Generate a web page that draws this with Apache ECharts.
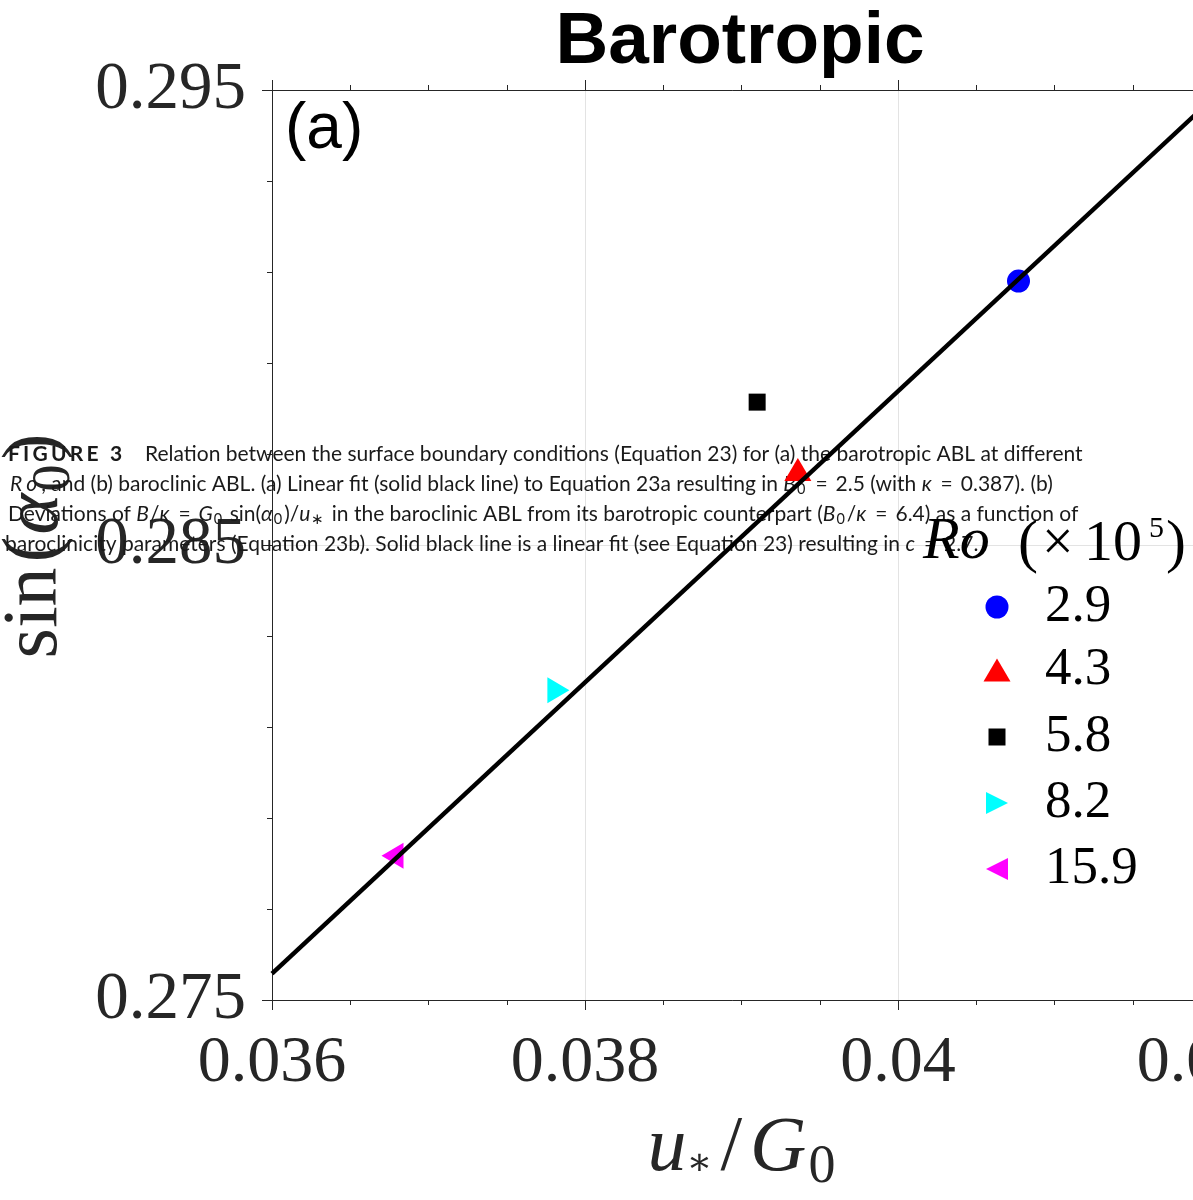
<!DOCTYPE html>
<html><head><meta charset="utf-8">
<script src="https://cdn.jsdelivr.net/npm/echarts@6/dist/echarts.min.js"></script>
<style>html,body{margin:0;padding:0;background:#fff}#c{width:1193px;height:1200px}</style>
</head><body><div id="c"></div>
<script>
// ---- data ----
const seriesNames = ['2.9', '4.3', '5.8', '8.2', '15.9'];
const xValues = [0.04077, 0.03936, 0.03910, 0.03783, 0.03677];
const yValues = [0.29080, 0.28666, 0.28814, 0.28181, 0.27817];
const fitX = [0.036, 0.042];
const fitY = [0.27558, 0.29478];
const xTickLabels = ['0.036', '0.038', '0.04', '0.042'];
const yTickLabels = ['0.275', '0.285', '0.295'];
const titleText = 'Barotropic';
const panelText = '(a)';
const captionHead = '{h|F}{h|I}{h|G}{h|U}{h|R}{h|E}{h| }{h|3}';
const captionLines = [
  '{n|Relation between the surface boundary conditions (Equation 23) for (a) the barotropic ABL at different}',
  '{r|R}{r|o}{n|, and (b) baroclinic ABL. (a) Linear fit (solid black line) to Equation 23a resulting in }{i|B}{s|0}{e|=}{n|2.5 (with }{i|κ}{e|=}{n|0.387). (b)}',
  '{n|Deviations of }{i|B}{n|/}{i|κ}{e|=}{i|G}{s|0}{n| sin(}{i|α}{s|0}{n|)/}{i|u}{s|∗}{n| in the baroclinic ABL from its barotropic counterpart (}{i|B}{s|0}{n|/}{i|κ}{e|=}{n|6.4) as a function of}',
  '{n|baroclinicity parameters (Equation 23b). Solid black line is a linear fit (see Equation 23) resulting in }{i|c}{e|=}{n|2.7.}'
];

// ---- styles ----
const markerColors = ['#0000ff', '#ff0000', '#000000', '#00ffff', '#ff00ff'];
const markerSymbols = ['circle', 'triangle', 'rect', 'path://M0,0L1,0.5L0,1Z', 'path://M1,0L0,0.5L1,1Z'];
const markerSizes = [[23, 23], [27, 23], [17, 17], [22, 26], [22, 26]];
const legendCenterY = [607, 670, 737, 803, 869];
const legendIconX = 997, legendTextX = 1045;
const AX = '#262626';
const SERIF = 'Liberation Serif';
const CAPC = '#1a1a1a';
const CAPF = 21;

function fmt(list) {
  return function (v) {
    for (const s of list) if (Math.abs(parseFloat(s) - v) < 1e-9) return s;
    return String(parseFloat(v.toFixed(4)));
  };
}

const series = seriesNames.map((n, i) => ({
  name: n, type: 'scatter', xAxisIndex: 0, yAxisIndex: 0,
  data: [[xValues[i], yValues[i]]],
  symbol: markerSymbols[i], symbolSize: markerSizes[i],
  itemStyle: { color: markerColors[i], opacity: 1 },
  z: 3, silent: true
}));
series.push({
  name: 'fit', type: 'line', xAxisIndex: 0, yAxisIndex: 0,
  data: fitX.map((x, i) => [x, fitY[i]]),
  showSymbol: false, symbol: 'none',
  lineStyle: { color: '#000', width: 4.5 }, z: 5, silent: true
});

const legends = seriesNames.map((n, i) => {
  const w = markerSizes[i][0], h = markerSizes[i][1];
  return {
    data: [n], orient: 'vertical', selectedMode: false, padding: 0,
    left: legendIconX - w / 2, top: legendCenterY[i] - 30,
    itemWidth: w, itemHeight: h,
    textStyle: { fontFamily: SERIF, fontSize: 53, color: '#000', lineHeight: 60,
      padding: [0, 0, 0, legendTextX - (legendIconX + w / 2) - 5] }
  };
});

const capBase = { fontFamily: 'Lato', fontSize: CAPF, fontStyle: 'normal', fontWeight: 'normal', fill: CAPC };
const capRich = {
  n: Object.assign({}, capBase),
  i: Object.assign({}, capBase, { fontStyle: 'italic', padding: [0, 1, 0, 0] }),
  r: Object.assign({}, capBase, { fontStyle: 'italic', padding: [0, 4, 0, 0] }),
  e: Object.assign({}, capBase, { padding: [0, 8, 0, 8] }),
  s: Object.assign({}, capBase, { fontSize: 14.5, padding: [10, 2, 0, 0] }),
  h: Object.assign({}, capBase, { fontWeight: 'bold', padding: [0, 3.2, 0, 0] })
};
const capY = [454, 484, 514, 544];
const capX = [145, 10, 8, 5];

const graphics = [
  { type: 'text', x: 740, y: 43, z: 10, style: { text: titleText, fontFamily: 'Liberation Sans', fontWeight: 'bold', fontSize: 73, fill: '#000', align: 'center', verticalAlign: 'middle' } },
  { type: 'text', x: 285, y: 130, z: 10, style: { text: panelText, fontFamily: 'Liberation Sans', fontSize: 64, fill: '#000', align: 'left', verticalAlign: 'middle' } },
  // legend title Ro (x10^5)
  { type: 'text', x: 923, y: 542, z: 10, style: { text: 'Ro', fontFamily: SERIF, fontStyle: 'italic', fontSize: 60, fill: '#000', align: 'left', verticalAlign: 'middle' } },
  { type: 'text', x: 1018, y: 545, z: 10, style: { text: '(', fontFamily: SERIF, fontSize: 60, fill: '#000', align: 'left', verticalAlign: 'middle' } },
  { type: 'text', x: 1042, y: 545, z: 10, style: { text: '×', fontFamily: SERIF, fontSize: 56, fill: '#000', align: 'left', verticalAlign: 'middle' } },
  { type: 'text', x: 1084, y: 545, z: 10, style: { text: '10', fontFamily: SERIF, fontSize: 58, fill: '#000', align: 'left', verticalAlign: 'middle' } },
  { type: 'text', x: 1149, y: 529, z: 10, style: { text: '5', fontFamily: SERIF, fontSize: 30, fill: '#000', align: 'left', verticalAlign: 'middle' } },
  { type: 'text', x: 1166, y: 545, z: 10, style: { text: ')', fontFamily: SERIF, fontSize: 60, fill: '#000', align: 'left', verticalAlign: 'middle' } },
  // caption
  { type: 'text', x: 8, y: capY[0], z: 1, style: { text: captionHead, rich: capRich, fontFamily: 'Lato', fontSize: CAPF, fill: CAPC, align: 'left', verticalAlign: 'middle' } }
];
captionLines.forEach((t, i) => graphics.push({
  type: 'text', x: capX[i], y: capY[i], z: 1,
  style: { text: t, rich: capRich, fontFamily: 'Lato', fontSize: CAPF, fill: CAPC, align: 'left', verticalAlign: 'middle' }
}));

const NF = 78;
const nameRich = {
  n: { fontFamily: SERIF, fontSize: NF, fontStyle: 'normal', color: AX },
  p: { fontFamily: SERIF, fontSize: NF, fontStyle: 'normal', color: AX, padding: [0, 2, 0, 5] },
  i: { fontFamily: SERIF, fontSize: NF, fontStyle: 'italic', color: AX },
  s: { fontFamily: SERIF, fontSize: 54, fontStyle: 'normal', color: AX, padding: [38, 0, 0, 2] },
  a: { fontFamily: 'DejaVu Serif', fontSize: 38, fontStyle: 'normal', color: AX, padding: [30, 2, 0, 0] },
  l: { fontFamily: SERIF, fontSize: NF, fontStyle: 'normal', color: AX, padding: [0, 8, 0, 6] }
};

const tickCommon = {
  axisLine: { show: true, onZero: false, lineStyle: { color: AX, width: 1 } },
  axisTick: { show: true, inside: false, length: 10, lineStyle: { color: AX, width: 1 } }
};

const option = {
  animation: false,
  backgroundColor: '#fff',
  textStyle: { fontFamily: SERIF },
  grid: { left: 272, top: 90, right: -18, bottom: 200, containLabel: false, outerBoundsMode: 'none' },
  legend: legends,
  xAxis: [
    Object.assign({
      type: 'value', position: 'bottom', min: 0.036, max: 0.042, interval: 0.002,
      splitLine: { show: true, lineStyle: { color: '#e3e3e3', width: 1 } },
      axisLabel: { show: true, margin: 31, fontFamily: SERIF, fontSize: 66, color: AX, formatter: fmt(xTickLabels), hideOverlap: false },
      name: '{i|u}{a|∗}{l|/}{i|G}{s|0}', nameLocation: 'middle', nameGap: 103, nameMoveOverlap: false,
      nameTextStyle: { rich: nameRich }
    }, tickCommon, { minorTick: { show: true, splitNumber: 4, length: 5, lineStyle: { color: AX } } }),
    Object.assign({
      type: 'value', position: 'top', min: 0.036, max: 0.042, interval: 0.002,
      splitLine: { show: false }, axisLabel: { show: false }
    }, tickCommon, { minorTick: { show: true, splitNumber: 4, length: 5, lineStyle: { color: AX } } })
  ],
  yAxis: [
    Object.assign({
      type: 'value', position: 'left', min: 0.275, max: 0.295, interval: 0.01,
      splitLine: { show: true, lineStyle: { color: '#e3e3e3', width: 1 } },
      axisLabel: { show: true, margin: 26, fontFamily: SERIF, fontSize: 67, color: AX, formatter: fmt(yTickLabels), hideOverlap: false },
      name: '{n|sin}{p|(}{i|α}{s|0}{p|)}', nameLocation: 'middle', nameRotate: 90, nameGap: 190, nameMoveOverlap: false,
      nameTextStyle: { rich: nameRich }
    }, tickCommon, { minorTick: { show: true, splitNumber: 5, length: 5, lineStyle: { color: AX } } })
  ],
  graphic: graphics,
  series: series
};

const chart = echarts.init(document.getElementById('c'), null, { renderer: 'canvas' });
chart.setOption(option);
</script>
</body></html>
